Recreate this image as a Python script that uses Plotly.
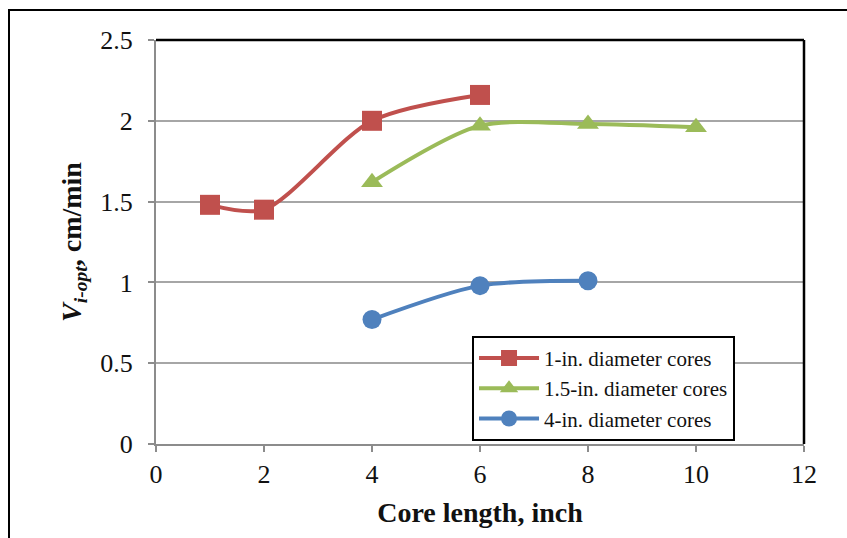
import plotly.graph_objects as go

# Data
x_1in = [1, 2, 4, 6]
y_1in = [1.48, 1.45, 2.00, 2.16]
x_15in = [4, 6, 8, 10]
y_15in = [1.62, 1.97, 1.98, 1.96]
x_4in = [4, 6, 8]
y_4in = [0.77, 0.98, 1.01]

names = ["1-in. diameter cores", "1.5-in. diameter cores", "4-in. diameter cores"]
colors = ["#C0504D", "#9BBB59", "#4F81BD"]
symbols = ["square", "triangle-up", "circle"]
sizes = [20, 19, 19]

x_ticks = [0, 2, 4, 6, 8, 10, 12]
y_ticks = [0, 0.5, 1, 1.5, 2, 2.5]
y_tick_text = ["0", "0.5", "1", "1.5", "2", "2.5"]

FONT = "Liberation Serif"

fig = go.Figure()
for xs, ys, nm, c, s, sz in zip([x_1in, x_15in, x_4in], [y_1in, y_15in, y_4in],
                                names, colors, symbols, sizes):
    fig.add_trace(go.Scatter(
        x=xs, y=ys, name=nm, mode="lines+markers",
        line=dict(color=c, width=4, shape="spline", smoothing=0.8),
        marker=dict(symbol=s, size=sz, color=c),
    ))

fig.update_layout(
    width=847, height=538,
    margin=dict(l=156, r=43, t=40, b=94),
    paper_bgcolor="white", plot_bgcolor="white",
    font=dict(family=FONT, color="#111111"),
    showlegend=True,
    legend=dict(
        x=0.4877, y=0.008, xanchor="left", yanchor="bottom",
        bordercolor="black", borderwidth=2, bgcolor="white",
        font=dict(family=FONT, size=21, color="#111111"),
        itemwidth=60, tracegroupgap=0,
    ),
    xaxis=dict(
        range=[0, 12], tickvals=x_ticks, ticktext=[str(v) for v in x_ticks],
        showgrid=False, zeroline=False,
        showline=True, linecolor="#8c8c8c", linewidth=2,
        ticks="outside", ticklen=6, tickcolor="#8c8c8c", tickwidth=1.5,
        tickfont=dict(family=FONT, size=26, color="#111111"),
        title=dict(text="<b>Core length, inch</b>", standoff=14,
                   font=dict(family=FONT, size=28, color="#111111")),
    ),
    yaxis=dict(
        range=[0, 2.5], tickvals=y_ticks, ticktext=y_tick_text,
        showgrid=True, gridcolor="#a6a6a6", gridwidth=1.5,
        zeroline=False,
        showline=True, linecolor="#8c8c8c", linewidth=2,
        ticks="outside", ticklen=6, tickcolor="#8c8c8c", tickwidth=1.5,
        ticklabelstandoff=10,
        tickfont=dict(family=FONT, size=26, color="#111111"),
        title=dict(text="<b><i>V</i><sub><i>i-opt</i></sub>, cm/min</b>", standoff=10,
                   font=dict(family=FONT, size=28, color="#111111")),
    ),
    shapes=[
        # plot area frame (top and right, black)
        dict(type="line", xref="paper", yref="paper", x0=0, y0=1, x1=1, y1=1,
             line=dict(color="black", width=2.5)),
        dict(type="line", xref="paper", yref="paper", x0=1, y0=0, x1=1, y1=1,
             line=dict(color="black", width=2.5)),
        # outer figure border
        dict(type="rect", xref="paper", yref="paper",
             x0=(9 - 156) / 648, y0=(444 - 545) / 404,
             x1=(860 - 156) / 648, y1=(444 - 10) / 404,
             line=dict(color="black", width=2), layer="above"),
    ],
)

fig.write_html("out.html")
